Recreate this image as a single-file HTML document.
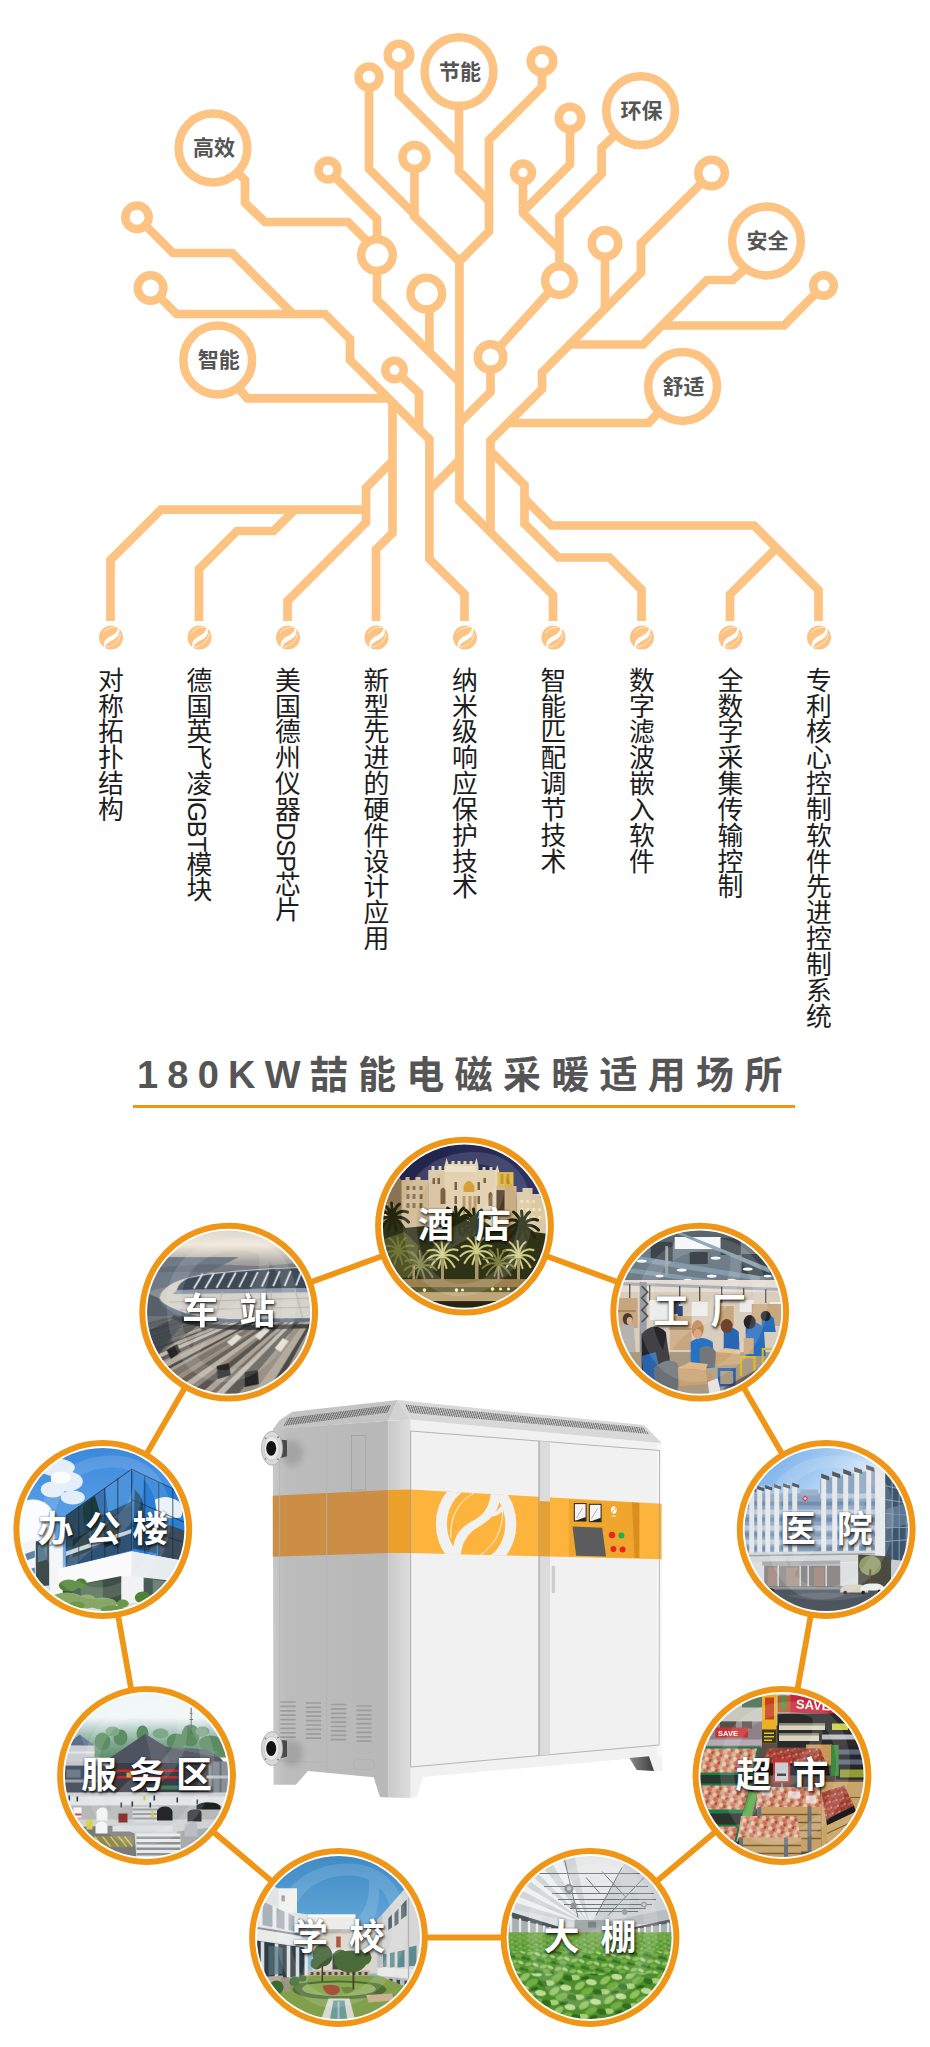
<!DOCTYPE html>
<html lang="zh-CN">
<head>
<meta charset="utf-8">
<title>180KW喆能电磁采暖适用场所</title>
<style>
*{margin:0;padding:0;box-sizing:border-box}
html,body{width:930px;height:2047px;background:#fff;overflow:hidden}
body{font-family:"Liberation Sans","Noto Sans CJK SC",sans-serif}
#page{position:relative;width:930px;height:2047px;background:#fff;overflow:hidden}
#art{position:absolute;left:0;top:0;width:930px;height:2047px}
.tag{position:absolute;width:80px;height:30px;line-height:30px;text-align:center;font-size:21px;font-weight:700;color:#555;letter-spacing:0}
.vt{position:absolute;top:667px;width:30px;writing-mode:vertical-rl;text-orientation:mixed;font-size:25.83px;line-height:30px;color:#1d1d1d;white-space:nowrap;font-weight:400}
#title{position:absolute;left:137px;top:1047px;width:680px;height:56px;line-height:56px;font-size:38px;font-weight:700;color:#555;letter-spacing:10.3px;white-space:nowrap}
.lab{position:absolute;width:180px;height:50px;line-height:50px;text-align:center;font-size:36px;font-weight:700;color:#fff;white-space:nowrap;text-shadow:1px 2px 3px rgba(0,0,0,.75),0 0 2px rgba(0,0,0,.5)}
.l2{letter-spacing:21px;text-indent:21px}
.l3{letter-spacing:11.5px;text-indent:11.5px}
</style>
</head>
<body>
<div id="page">
<svg id="art" viewBox="0 0 930 2047" width="930" height="2047">
<defs>
<symbol id="ico" viewBox="-13 -13 26 26" overflow="visible">
<circle r="12" fill="#FDC383"/>
<path d="M7.2,-10.8 C6.6,-5.6 3.6,-3.2 -1.2,-0.9 C-6,1.6 -8.2,5.4 -6.9,10.9 L-6.2,11 C-5.5,7 -3,4.8 2,2.5 C7.6,-0.2 9.6,-4.6 7.9,-10.4Z" fill="#fff"/>
<path d="M-7.8,-4.4 C-5.6,-8.6 -0.5,-10.6 6.8,-10.6" stroke="#fff" stroke-width=".8" fill="none" opacity=".8"/>
<path d="M-5.4,9.6 C1.5,9.2 8.2,4.6 9.4,-3.6" stroke="#fff" stroke-width=".8" fill="none" opacity=".8"/>
</symbol>
<linearGradient id="gSide" x1="0" x2="1" y1="0" y2="0"><stop offset="0" stop-color="#C8C8C8"/><stop offset=".12" stop-color="#BCBCBC"/><stop offset="1" stop-color="#B8B8B8"/></linearGradient>
<linearGradient id="gLeg" x1="0" x2="1" y1="0" y2="0"><stop offset="0" stop-color="#8a8a8a"/><stop offset="1" stop-color="#3c3c3c"/></linearGradient>
<pattern id="hatch" width="2.2" height="10" patternUnits="userSpaceOnUse" patternTransform="skewX(20)"><rect width="2.2" height="10" fill="#CFCFCF"/><rect width="1.1" height="10" fill="#6E6E6E"/></pattern>
<clipPath id="cp"><circle r="81.6"/></clipPath>
<filter id="soft" x="-5%" y="-5%" width="110%" height="110%"><feGaussianBlur stdDeviation="0.7"/></filter>
<linearGradient id="skyCZ" x1="0" x2="0" y1="0" y2="1"><stop offset="0" stop-color="#D9D6D0"/><stop offset=".28" stop-color="#F1E8DA"/><stop offset=".42" stop-color="#CFC8BE"/><stop offset=".58" stop-color="#A2A09E"/><stop offset="1" stop-color="#8A8E92"/></linearGradient>
<linearGradient id="skyBG" x1="0" x2="0" y1="0" y2="1"><stop offset="0" stop-color="#3A88DC"/><stop offset=".5" stop-color="#5FA3E8"/><stop offset="1" stop-color="#A9CCF0"/></linearGradient>
<linearGradient id="skyYY" x1="0" x2="1" y1="0" y2="1"><stop offset="0" stop-color="#5E9FE6"/><stop offset=".32" stop-color="#A9CDF2"/><stop offset=".5" stop-color="#E6F0FA"/><stop offset="1" stop-color="#F4F8FC"/></linearGradient>
<linearGradient id="skyXX" x1="0" x2="0" y1="0" y2="1"><stop offset="0" stop-color="#3F8AC4"/><stop offset=".4" stop-color="#5FA4D6"/><stop offset="1" stop-color="#9CCAE8"/></linearGradient>
<g id="gloss" opacity=".13" fill="#fff"><path fill-rule="evenodd" d="M-62,-8 C-62,-52 -28,-74 10,-74 C46,-74 68,-48 68,-12 C68,30 36,70 -6,70 C-40,70 -62,36 -62,-8Z M-48,-6 C-48,30 -30,58 -4,58 C30,58 54,24 54,-12 C54,-42 38,-62 10,-62 C-22,-62 -48,-42 -48,-6Z"/><path d="M30,-62 C34,-30 20,-14 -6,-2 C-30,10 -40,28 -36,58 C-30,36 -20,24 2,14 C30,0 44,-22 40,-58Z"/></g>
<clipPath id="bandclip"><path d="M410.8,1489.6 L661.6,1503.7 L661.6,1559.3 L410.8,1553 Z"/></clipPath>
<pattern id="hatch2" width="2.2" height="10" patternUnits="userSpaceOnUse" patternTransform="skewX(-25)"><rect width="2.2" height="10" fill="#BDBDBD"/><rect width="1.1" height="10" fill="#666"/></pattern>
<filter id="blur3" x="-50%" y="-50%" width="200%" height="200%"><feGaussianBlur stdDeviation="3"/></filter>
<linearGradient id="skyJD" x1="0" x2="1" y1="0" y2="1"><stop offset="0" stop-color="#1D2146"/><stop offset=".6" stop-color="#2E3363"/><stop offset="1" stop-color="#3A3F6C"/></linearGradient>
<g id="palm"><path d="M0,0 Q-6,-9 -15,-5 M0,0 Q-9,-3 -16,4 M0,0 Q-7,2 -12,11 M0,0 Q-3,-10 -9,-14 M0,0 Q2,-11 7,-14 M0,0 Q7,-9 15,-6 M0,0 Q10,-3 16,4 M0,0 Q7,2 12,11 M0,0 Q0,-9 -1,-15 M0,0 Q-2,5 -4,12 M0,0 Q2,5 4,12"/></g>
<linearGradient id="hillFW" x1="0" x2="0" y1="0" y2="1"><stop offset="0" stop-color="#F1F6F6"/><stop offset=".3" stop-color="#B9D0CC"/><stop offset=".65" stop-color="#7FA890"/><stop offset="1" stop-color="#5F8E66"/></linearGradient>
<pattern id="apl" width="9" height="8" patternUnits="userSpaceOnUse" patternTransform="rotate(17)"><rect width="9" height="8" fill="#C98A72"/><circle cx="2" cy="2" r="2.200" fill="#E3A692"/><circle cx="6.500" cy="2.500" r="2.100" fill="#D06A5A"/><circle cx="4" cy="6" r="2.200" fill="#E8C9A0"/><circle cx="8.500" cy="6.500" r="1.800" fill="#B8473E"/><circle cx="0.500" cy="6" r="1.300" fill="#8FA35A"/></pattern>
<pattern id="apl2" width="7" height="6" patternUnits="userSpaceOnUse" patternTransform="rotate(-14)"><rect width="7" height="6" fill="#8E3A32"/><circle cx="2" cy="2" r="1.800" fill="#C4584A"/><circle cx="5.500" cy="4.500" r="1.700" fill="#B0443A"/><circle cx="5" cy="1" r="1.200" fill="#DC8A6A"/></pattern>
<pattern id="leafL" width="26" height="20" patternUnits="userSpaceOnUse" patternTransform="rotate(-12)"><rect width="26" height="20" fill="#4F8C2E"/><ellipse cx="6" cy="5" rx="6" ry="3.200" fill="#8FC25C" transform="rotate(-25 6 5)"/><ellipse cx="18" cy="4" rx="5.500" ry="3" fill="#BBDD94" transform="rotate(20 18 4)"/><ellipse cx="12" cy="12" rx="6.500" ry="3.400" fill="#6FAE40" transform="rotate(-10 12 12)"/><ellipse cx="22" cy="15" rx="5" ry="3" fill="#2F6E1E" transform="rotate(30 22 15)"/><ellipse cx="3" cy="16" rx="5" ry="2.800" fill="#A6D078" transform="rotate(15 3 16)"/><ellipse cx="13" cy="19" rx="4" ry="2" fill="#2B661C"/></pattern>
<pattern id="leafM" width="15" height="11" patternUnits="userSpaceOnUse" patternTransform="rotate(9)"><rect width="15" height="11" fill="#57943A"/><ellipse cx="3.500" cy="3" rx="3.500" ry="1.800" fill="#8CC05A" transform="rotate(-20 3.5 3)"/><ellipse cx="10.500" cy="2.500" rx="3.200" ry="1.700" fill="#A9D27A" transform="rotate(18 10.5 2.5)"/><ellipse cx="7" cy="7" rx="3.600" ry="1.900" fill="#6FAE42"/><ellipse cx="13" cy="8.500" rx="2.800" ry="1.600" fill="#35741F"/><ellipse cx="2" cy="9" rx="2.600" ry="1.500" fill="#39781F"/></pattern>
<pattern id="leafS" width="8" height="5" patternUnits="userSpaceOnUse" patternTransform="rotate(-6)"><rect width="8" height="5" fill="#619E3C"/><ellipse cx="2" cy="1.500" rx="1.800" ry=".9" fill="#8CBE58"/><ellipse cx="6" cy="3.500" rx="1.800" ry=".9" fill="#7DB24C"/><ellipse cx="5" cy="1" rx="1.200" ry=".7" fill="#3F7E26"/></pattern>
<linearGradient id="gCham" x1="0" x2="1" y1="0" y2="0"><stop offset="0" stop-color="#C9C9C9"/><stop offset="1" stop-color="#DEDEDE"/></linearGradient>
</defs>
<g id="tree" fill="none" stroke="#FDC383" stroke-width="8.7" stroke-linejoin="miter" stroke-linecap="butt">
<!-- upper branches -->
<path d="M235,170 L245,180 V203 L265,222 H348 L377,251"/>
<path d="M328,170 L377,219 V255"/>
<path d="M377,255 V299.5 L459.4,382"/>
<path d="M429.4,293 V354"/>
<path d="M369,77 V169 L414.5,214.5"/>
<path d="M414.5,157 V216.5 L459.4,261.4"/>
<path d="M399,55 V94 L459,154"/>
<path d="M459,72 V171 L489,201"/>
<path d="M542,61 V87 L489,140 V231.4 L459.4,261.4 V501 L553,595 V621"/>
<path d="M570,118 V164.5 L523,211.5"/>
<path d="M523,172.5 V213 L559.4,249.4 V280"/>
<path d="M617,133 L601.6,148 V174 L559.4,216.5 V250"/>
<path d="M559.4,280.6 L490.5,357 V392 L459.4,423"/>
<path d="M711.6,173 L641,243.5 V272.5 L542,372.5 V389 L490.5,440.5 V534"/>
<path d="M605,243.5 V309"/>
<path d="M745,269 L732.6,280 H707 L643,344.5 H567"/>
<path d="M823.5,285.5 L784,325.5 H660"/>
<path d="M659,412 L648.7,423 H506"/>
<path d="M137,217 L173,253 H232 L293,314"/>
<path d="M150.6,288 L176.5,314 H325 L350,339 V360 L429.4,439.4 V559 L464.5,594 V621"/>
<path d="M240,390 L247.4,398.4 H390"/>
<path d="M392.5,400 V533 L376,549.5 V621"/>
<path d="M394.5,370 L419,393 V430"/>
<path d="M459.4,460 L429.4,490"/>
<path d="M392.5,461 L366,488 V522.5 L287.5,601 V621"/>
<path d="M366,509.6 H161 L110.5,560 V621"/>
<path d="M295,509.6 L273.4,531 H237 L199,569 V621"/>
<path d="M490.5,451 L524.5,485 V523.6 L558.4,557.5 H609.4 L641.5,589.6 V621"/>
<path d="M524.5,498.7 L551.3,525.5 H754 L818.5,590 V621"/>
<path d="M776.5,548 L730,594.5 V621"/>
</g>
<g id="nodes" fill="#fff" stroke="#FDC383" stroke-width="8.5">
<circle cx="213" cy="148" r="34.4"/>
<circle cx="459" cy="71.6" r="34.4"/>
<circle cx="640.6" cy="110.6" r="34.4"/>
<circle cx="766.5" cy="241" r="34.4"/>
<circle cx="217.7" cy="360" r="34.4"/>
<circle cx="682.6" cy="386.5" r="34.4"/>
<circle cx="369" cy="77" r="10.5"/>
<circle cx="399" cy="55" r="11.3"/>
<circle cx="542" cy="61" r="11.3"/>
<circle cx="414.5" cy="157" r="12"/>
<circle cx="570" cy="118" r="11.3"/>
<circle cx="523" cy="172.5" r="9"/>
<circle cx="711.6" cy="173" r="13.3"/>
<circle cx="605" cy="243.5" r="13.3"/>
<circle cx="823.5" cy="285.5" r="10.3"/>
<circle cx="328" cy="170" r="9.5"/>
<circle cx="137" cy="217.3" r="11.7"/>
<circle cx="150.6" cy="288" r="12.8"/>
<circle cx="377" cy="255" r="15.8"/>
<circle cx="426.3" cy="293.5" r="15.8"/>
<circle cx="559.4" cy="280.6" r="14.3"/>
<circle cx="490.5" cy="357" r="12.8"/>
<circle cx="394.5" cy="370" r="9.2"/>
</g>

<g id="icons">
<use href="#ico" x="98.0" y="624.5" width="26" height="26"/>
<use href="#ico" x="186.5" y="624.5" width="26" height="26"/>
<use href="#ico" x="275.0" y="624.5" width="26" height="26"/>
<use href="#ico" x="363.5" y="624.5" width="26" height="26"/>
<use href="#ico" x="452.0" y="624.5" width="26" height="26"/>
<use href="#ico" x="540.5" y="624.5" width="26" height="26"/>
<use href="#ico" x="629.0" y="624.5" width="26" height="26"/>
<use href="#ico" x="717.5" y="624.5" width="26" height="26"/>
<use href="#ico" x="806.0" y="624.5" width="26" height="26"/>
</g>

<g id="ring" stroke="#EF9616" fill="none">
<path stroke-width="5.8" d="M464.5,1226.1 L699.7,1312.1 L826.2,1529.5 L782.0,1775.5 L590.0,1937.5 L338.5,1937.5 L146.5,1775.5 L102.8,1529.5 L228.7,1312.1 Z"/>
<circle cx="464.5" cy="1226.1" r="86.4" stroke-width="6" fill="#fff"/>
<circle cx="699.7" cy="1312.1" r="86.4" stroke-width="6" fill="#fff"/>
<circle cx="826.2" cy="1529.5" r="86.4" stroke-width="6" fill="#fff"/>
<circle cx="782.0" cy="1775.5" r="86.4" stroke-width="6" fill="#fff"/>
<circle cx="590.0" cy="1937.5" r="86.4" stroke-width="6" fill="#fff"/>
<circle cx="338.5" cy="1937.5" r="86.4" stroke-width="6" fill="#fff"/>
<circle cx="146.5" cy="1775.5" r="86.4" stroke-width="6" fill="#fff"/>
<circle cx="102.8" cy="1529.5" r="86.4" stroke-width="6" fill="#fff"/>
<circle cx="228.7" cy="1312.1" r="86.4" stroke-width="6" fill="#fff"/>
</g>

<g id="machine">
<!-- side face -->
<path d="M272.8,1429 L388.5,1420.8 L388.5,1797.5 L379.9,1797 L373.7,1777.3 L308,1771 L295.8,1784.7 L273.5,1784.7 Z" fill="url(#gSide)"/>
<!-- chamfer -->
<path d="M388.5,1420.8 L410.8,1419.6 L410.8,1798 L388.5,1797.5 Z" fill="url(#gCham)"/>
<!-- front face -->
<path d="M410.8,1419.6 L662,1443.2 L661.6,1756 L423,1777 L417,1797 L410.8,1798 Z" fill="#F1F1F1"/>
<path d="M657,1442.7 L662,1443.2 L661.6,1756 L657,1756.4 Z" fill="#F8F8F8"/>
<!-- right leg -->
<path d="M643,1756 L661.6,1756 L662.8,1771 L654,1771 Z" fill="#F2F2F2"/>
<path d="M629.4,1758 L649,1756.3 L654,1771 L636.8,1770 Z" fill="url(#gLeg)"/>
<!-- lid -->
<path d="M292.5,1411.7 L397.8,1400 L388.5,1420.8 L272.8,1429.4 L279.7,1420 Z" fill="#C4C4C4"/>
<path d="M397.8,1400 L410.8,1419.6 L388.5,1420.8 Z" fill="#D2D2D2"/>
<path d="M397.8,1400 L644,1425 L662,1443.2 L410.8,1419.6 Z" fill="#D8D8D8"/>
<path d="M288,1418 L391,1404.9 L387.8,1412.6 L283.5,1426 Z" fill="url(#hatch2)"/>
<path d="M404.5,1404.6 L643,1427.6 L649.3,1434 L409.5,1412.8 Z" fill="url(#hatch)"/>
<!-- orange band -->
<path d="M272.8,1495.8 L388.5,1490 L388.5,1553 L272.8,1556.8 Z" fill="#CC8E45"/>
<path d="M388.5,1490 L410.8,1489.6 L410.8,1553 L388.5,1553 Z" fill="#EAA02B"/>
<path d="M410.8,1489.6 L661.6,1503.7 L661.6,1559.3 L410.8,1553 Z" fill="#FDB43C"/>
<!-- side details -->
<path d="M279.7,1437 V1761 L326.7,1762.5 M326.7,1434 V1772" stroke="#B2B2B2" stroke-width=".8" fill="none"/>
<rect x="351.4" y="1435.6" width="14.4" height="54.4" fill="none" stroke="#9E9E9E" stroke-width=".7"/>
<g stroke="#9C9C9C" stroke-width="1.7" stroke-linecap="round">
<path d="M281,1702h14m-14,4.4h14m-14,4.4h14m-14,4.4h14m-14,4.4h14m-14,4.4h14m-14,4.4h14m-14,4.4h14m-14,4.4h14"/>
<path d="M306.5,1703h14m-14,4.4h14m-14,4.4h14m-14,4.4h14m-14,4.4h14m-14,4.4h14m-14,4.4h14m-14,4.4h14m-14,4.4h14"/>
<path d="M331.5,1704.5h14m-14,4.4h14m-14,4.4h14m-14,4.4h14m-14,4.4h14m-14,4.4h14m-14,4.4h14m-14,4.4h14m-14,4.4h14"/>
<path d="M357,1706h14m-14,4.4h14m-14,4.4h14m-14,4.4h14m-14,4.4h14m-14,4.4h14m-14,4.4h14m-14,4.4h14m-14,4.4h14"/>
</g>
<rect x="353.5" y="1759.5" width="21" height="10" rx="4" fill="none" stroke="#AFAFAF" stroke-width=".7"/>
<!-- doors -->
<path d="M410.6,1431 L659.5,1450.5 L659,1745 L410.6,1767 Z" fill="none" stroke="#9A9A9A" stroke-width=".7"/>
<path d="M539,1441 L550,1441.9 L550,1754.6 L539,1755.6 Z" fill="#DCDCDC"/>
<path d="M539,1441 V1755.6" stroke="#999" stroke-width="1" fill="none"/>
<path d="M539,1501 L550,1501.6 V1556.5 L539,1556.2Z" fill="#E5A037"/>
<rect x="552" y="1566" width="2.6" height="27" rx="1.3" fill="#D0D0D0" stroke="#BDBDBD" stroke-width=".5"/>
<!-- logo on band -->
<g clip-path="url(#bandclip)"><g transform="translate(476.1,1524)">
<ellipse rx="40.3" ry="47" fill="#F1F1F1"/>
<ellipse rx="29.2" ry="36" fill="#FDB43C"/>
<path d="M15,-36 C15,-20 9,-10 -1.6,-4 C-14,2.5 -25,10 -23,36 L-15,36 C-16,22 -10,12 -1.6,5.6 C12,-3 26,-10 24,-36 Z" fill="#F1F1F1"/>
<path d="M-25,14 C-27,-8 -16,-24 -2,-31" stroke="#F1F1F1" stroke-width="1" fill="none"/>
<path d="M4,31 C18,22 27,6 26.600,-14" stroke="#F1F1F1" stroke-width="1" fill="none"/>
<path d="M14,-8 C20,-12 24,-16 26.6,-20 L26.6,-13 C23,-9 19,-7 14,-8Z" fill="#F1F1F1"/>
</g></g>
<!-- control panel -->
<path d="M568.8,1499.5 L639.3,1503 L639.3,1558 L568.8,1556 Z" fill="#F0A62D"/>
<path d="M632,1502.6 L639.3,1503 L639.3,1558 L634.5,1557.8 Z" fill="#D98F1E"/>
<rect x="574.3" y="1503.6" width="11.8" height="17.4" fill="#F4F4F4" stroke="#222" stroke-width="1"/>
<rect x="589.3" y="1504.3" width="11.8" height="17.4" fill="#F4F4F4" stroke="#222" stroke-width="1"/>
<path d="M574.8,1521 h11 v-4 z M589.800,1521.700 h11 v-4 z" fill="#222"/><path d="M576.500,1518 l6,-10 M591.500,1518.500 l6,-10" stroke="#888" stroke-width=".6"/>
<path d="M572.5,1526.4 L602.2,1527.7 L606,1556.6 L576.2,1555.8 Z" fill="#5C5C5E"/>
<circle cx="612" cy="1535" r="3.2" fill="#E8261C"/><circle cx="621.4" cy="1535.4" r="3" fill="#1FB04B"/>
<circle cx="613.4" cy="1549" r="3" fill="#E8261C"/><circle cx="622.6" cy="1549.5" r="3" fill="#E8261C"/>
<ellipse cx="613.8" cy="1510" rx="2.800" ry="3.800" fill="#fff"/><path d="M615.500,1507 q0.500,3 -1.700,3.300 q-2,0.500 -1.500,3" stroke="#F0A62D" stroke-width=".9" fill="none"/><rect x="611.500" y="1515.500" width="4.600" height="1.400" fill="#F6D9A6"/>
<!-- flanges -->
<g filter="url(#blur3)"><ellipse cx="292" cy="1453" rx="11" ry="13" fill="#000" opacity=".13"/><ellipse cx="292" cy="1753" rx="11" ry="13" fill="#000" opacity=".13"/></g>
<g transform="translate(272,1448.3)"><path d="M4,-9 L15,-8 V8 L4,11Z" fill="#4A4A4A"/><ellipse rx="10.600" ry="17" fill="#D9D9D9" stroke="#A8A8A8" stroke-width=".8"/><ellipse cx="-.4" rx="7.600" ry="12" fill="#E9E9E9" stroke="#B5B5B5" stroke-width=".6"/><ellipse cx="-.8" rx="5" ry="7.400" fill="#141414"/><circle cx="-6.500" cy="-10" r="1" fill="#8a8a8a"/><circle cx="6" cy="-11" r="1" fill="#8a8a8a"/><circle cx="-6.500" cy="10.500" r="1" fill="#8a8a8a"/><circle cx="6" cy="11" r="1" fill="#8a8a8a"/></g>
<g transform="translate(272,1748.5)"><path d="M4,-9 L15,-8 V8 L4,11Z" fill="#4A4A4A"/><ellipse rx="10.600" ry="17" fill="#D9D9D9" stroke="#A8A8A8" stroke-width=".8"/><ellipse cx="-.4" rx="7.600" ry="12" fill="#E9E9E9" stroke="#B5B5B5" stroke-width=".6"/><ellipse cx="-.8" rx="5" ry="7.400" fill="#141414"/><circle cx="-6.500" cy="-10" r="1" fill="#8a8a8a"/><circle cx="6" cy="-11" r="1" fill="#8a8a8a"/><circle cx="-6.500" cy="10.500" r="1" fill="#8a8a8a"/><circle cx="6" cy="11" r="1" fill="#8a8a8a"/></g>
</g>

<g id="photos">
<!-- 酒店 -->
<g transform="translate(464.5,1226.1)"><g clip-path="url(#cp)"><g filter="url(#soft)">
<rect x="-84" y="-84" width="168" height="168" fill="url(#skyJD)"/>
<!-- far left dark building -->
<path d="M-84,-46 L-66,-50 L-62,-44 V0 H-84Z" fill="#8C7352"/>
<!-- left wing -->
<path d="M-63,-46 h4 v-3 h4 v3 h6 v-3 h5 v3 h8 V8 H-63Z" fill="#CDB68E"/>
<!-- main block -->
<path d="M-36,-56 h3 v-4 h3 v4 h4 v-4 h3 v4 h3 V-60 l2,-8 l2,6 h3 v-3 h3 v3 h3 v-3 h3 v3 h3 v-3 h3 v3 h3 v-3 h3 v3 h2 l2,-6 l2,8 v4 h4 v-3 h3 v3 h4 v-3 h3 v3 h3 l2,-5 l2,8 V10 H-36Z" fill="#E2D2B2"/>
<path d="M-20,-60 h32 v6 h-32z" fill="#EDE0C4"/>
<path d="M-36,-56 h16 V10 h-16z" fill="#D8C6A2"/>
<!-- yellow tower + right buildings -->
<path d="M33,-54 h16 v14 h-16z" fill="#E0B232"/><path d="M36,-52 h3 v10 h-3z M42,-52 h3 v10 h-3z" fill="#B88820"/>
<path d="M32,-40 h20 V6 h-20z" fill="#C9AE84"/><path d="M32,-36 h8 v20 h-8z" fill="#4B3722"/>
<path d="M52,-34 h6 v-4 h10 v6 h8 v4 h8 V8 H52Z" fill="#DAC8A6"/>
<!-- windows -->
<g fill="#7A6242"><path d="M-58,-40 h3 v4 h-3z M-52,-40 h3 v4 h-3z M-45,-40 h3 v4 h-3z M-58,-32 h3 v5 h-3z M-52,-32 h3 v5 h-3z M-45,-32 h3 v5 h-3z M-58,-23 h3 v5 h-3z M-52,-23 h3 v5 h-3z M-45,-23 h3 v5 h-3z"/>
<path d="M-32,-48 h2.500 v6 h-2.500z M-27,-48 h2.500 v6 h-2.500z M-24,-36 q2.500,-5 5,0 v14 h-5z M-10,-44 h2.500 v8 h-2.500z M-10,-30 h2.500 v8 h-2.500z M-10,-17 h2.500 v8 h-2.500z M13,-44 h2.500 v8 h-2.500z M13,-30 h2.500 v8 h-2.500z M24,-32 q2,-4 4,0 v12 h-4z M19,-48 h2.500 v5 h-2.500z"/></g>
<path d="M-1,-40 q5,-10 11,0 v6 h-11z" fill="#D7A038"/><path d="M-2,-30 h3 v20 h-3z M4,-30 h3 v20 h-3z M9,-30 h3 v20 h-3z" fill="#B99A68"/>
<g fill="#F3E3A6"><path d="M-80,-22 h3 v4 h-3z M-74,-22 h3 v4 h-3z M-80,-12 h3 v4 h-3z M56,-26 h2.500 v3 h-2.500z M62,-26 h2.500 v3 h-2.500z M68,-26 h2.500 v3 h-2.500z M56,-18 h2.500 v3 h-2.500z M62,-18 h2.500 v3 h-2.500z M68,-18 h2.500 v3 h-2.500z M74,-18 h2.500 v3 h-2.500z M56,-10 h2.500 v3 h-2.500z M62,-10 h2.500 v3 h-2.500z M68,-10 h2.500 v3 h-2.500z M74,-10 h2.500 v3 h-2.500z M62,-2 h2.500 v3 h-2.500z M68,-2 h2.500 v3 h-2.500z"/></g>
<!-- dark palm band -->
<path d="M-84,0 L-70,-10 L-60,2 L-40,0 L-24,4 L-14,-8 L-2,-10 L6,-2 L16,-8 L26,2 L40,4 L52,-4 L62,0 L70,6 L84,8 V60 H-84Z" fill="#2F3018"/>
<g stroke="#23260F" stroke-width="3" fill="none" stroke-linecap="round"><use href="#palm" x="-72" y="-8"/><use href="#palm" x="-8" y="-4"/><use href="#palm" x="10" y="-2"/><use href="#palm" x="58" y="0"/></g>
<path d="M-84,14 L-60,6 L-46,20 L-50,50 L-84,56Z" fill="#4F5426"/>
<g stroke="#6F7438" stroke-width="2.200" fill="none" stroke-linecap="round"><use href="#palm" x="-66" y="26"/></g>
<g stroke="#A9A85E" stroke-width="2.200" fill="none" stroke-linecap="round"><use href="#palm" x="-22" y="30"/><use href="#palm" x="12" y="26"/><use href="#palm" x="54" y="30"/></g>
<g stroke="#D2CF8C" stroke-width="1.200" fill="none" stroke-linecap="round"><use href="#palm" x="-22" y="30"/><use href="#palm" x="12" y="26"/><use href="#palm" x="54" y="30"/></g>
<g stroke="#7D7F40" stroke-width="2" fill="none" stroke-linecap="round"><use href="#palm" x="34" y="38"/><use href="#palm" x="-44" y="40"/></g>
<path d="M-23.500,32 h3 v40 h-3z M10.500,28 h3.500 v44 h-3.500z M52.500,32 h3 v38 h-3z M33,40 h2 v30 h-2z M-52,40 h2.500 v30 h-2.500z" fill="#A8976C"/>
<!-- wall, lights, water -->
<rect x="-84" y="53" width="168" height="9" fill="#9C8050"/>
<rect x="-84" y="61" width="168" height="6" fill="#5B5A2C"/>
<rect x="-84" y="66" width="168" height="10" fill="#BFA676"/>
<g fill="#FFF4C8"><circle cx="-40" cy="64" r="1.800"/><circle cx="-8" cy="64" r="1.800"/><circle cx="-2" cy="64" r="1.500"/><circle cx="28" cy="63" r="1.800"/><circle cx="36" cy="63" r="1.500"/><circle cx="44" cy="63" r="1.500"/></g>
<rect x="-84" y="75" width="168" height="10" fill="#2A2418"/>
</g><use href="#gloss"/></g></g>
<!-- 车站 -->
<g transform="translate(228.7,1312.1)"><g clip-path="url(#cp)"><g filter="url(#soft)">
<rect x="-84" y="-84" width="168" height="60" fill="url(#skyCZ)"/>
<path d="M-84,-84 H-30 L-84,-40Z" fill="#AEB4BA" opacity=".7"/>
<rect x="-84" y="-26" width="168" height="30" fill="#8A8E92"/>
<path d="M-84,-55 H10 L-40,-30 L-84,-20Z" fill="#6F7A86"/>
<path d="M-84,-44 L-20,-48 L30,-46 L84,-50 V-40 H-84Z" fill="#5E6670" opacity=".6"/>
<g><path d="M108,-34 L-420,90 L-404,90Z" fill="#8F867A"/><path d="M108,-34 L-404,90 L-393,90Z" fill="#3E3E3C"/><path d="M108,-34 L-393,90 L-373,90Z" fill="#B9B1A4"/><path d="M108,-34 L-373,90 L-362,90Z" fill="#6C675F"/><path d="M108,-34 L-362,90 L-342,90Z" fill="#D6D1C7"/><path d="M108,-34 L-342,90 L-322,90Z" fill="#4A4845"/><path d="M108,-34 L-322,90 L-302,90Z" fill="#A39A8C"/><path d="M108,-34 L-302,90 L-286,90Z" fill="#C4BDB0"/><path d="M108,-34 L-286,90 L-279,90Z" fill="#2F2F2E"/><path d="M108,-34 L-279,90 L-266,90Z" fill="#B0A898"/><path d="M108,-34 L-266,90 L-257,90Z" fill="#77716A"/><path d="M108,-34 L-257,90 L-237,90Z" fill="#9B9285"/><path d="M108,-34 L-237,90 L-230,90Z" fill="#54514C"/><path d="M108,-34 L-230,90 L-221,90Z" fill="#CFC8BB"/><path d="M108,-34 L-221,90 L-214,90Z" fill="#8F867A"/><path d="M108,-34 L-214,90 L-203,90Z" fill="#3E3E3C"/><path d="M108,-34 L-203,90 L-190,90Z" fill="#B9B1A4"/><path d="M108,-34 L-190,90 L-181,90Z" fill="#6C675F"/><path d="M108,-34 L-181,90 L-168,90Z" fill="#D6D1C7"/><path d="M108,-34 L-168,90 L-152,90Z" fill="#4A4845"/><path d="M108,-34 L-152,90 L-145,90Z" fill="#A39A8C"/><path d="M108,-34 L-145,90 L-129,90Z" fill="#C4BDB0"/><path d="M108,-34 L-129,90 L-120,90Z" fill="#2F2F2E"/><path d="M108,-34 L-120,90 L-113,90Z" fill="#B0A898"/><path d="M108,-34 L-113,90 L-93,90Z" fill="#77716A"/><path d="M108,-34 L-93,90 L-84,90Z" fill="#9B9285"/><path d="M108,-34 L-84,90 L-71,90Z" fill="#54514C"/><path d="M108,-34 L-71,90 L-60,90Z" fill="#CFC8BB"/><path d="M108,-34 L-60,90 L-51,90Z" fill="#8F867A"/><path d="M108,-34 L-51,90 L-38,90Z" fill="#3E3E3C"/><path d="M108,-34 L-38,90 L-29,90Z" fill="#B9B1A4"/><path d="M108,-34 L-29,90 L-22,90Z" fill="#6C675F"/><path d="M108,-34 L-22,90 L-13,90Z" fill="#D6D1C7"/><path d="M108,-34 L-13,90 L3,90Z" fill="#4A4845"/><path d="M108,-34 L3,90 L19,90Z" fill="#A39A8C"/><path d="M108,-34 L19,90 L32,90Z" fill="#C4BDB0"/><path d="M108,-34 L32,90 L41,90Z" fill="#2F2F2E"/><path d="M108,-34 L41,90 L50,90Z" fill="#B0A898"/><path d="M108,-34 L50,90 L57,90Z" fill="#77716A"/><path d="M108,-34 L57,90 L64,90Z" fill="#9B9285"/><path d="M108,-34 L64,90 L73,90Z" fill="#54514C"/><path d="M108,-34 L73,90 L82,90Z" fill="#CFC8BB"/><path d="M108,-34 L82,90 L91,90Z" fill="#8F867A"/><path d="M108,-34 L91,90 L100,90Z" fill="#3E3E3C"/><path d="M108,-34 L100,90 L111,90Z" fill="#B9B1A4"/><path d="M108,-34 L111,90 L122,90Z" fill="#6C675F"/></g>
<rect x="-84" y="-10" width="168" height="96" fill="#8E867A" opacity=".32"/>
<path d="M-84,-20 L-70,-14 L-40,4 L-84,60Z" fill="#48525C" opacity=".75"/>
<path d="M-84,20 L-40,0 L-20,6 L-84,52Z" fill="#2E3338" opacity=".55"/>
<path d="M-69.500,-14 Q-66,-30 -30,-37 Q20,-44 84,-45 V6 L20,7 Q-30,8 -52,-2 Q-68,-8 -69.500,-14Z" fill="#D5D2CB"/>
<path d="M-40,-34 Q0,-42 84,-44.500 V-24 L-52,-22 Q-50,-30 -40,-34Z" fill="#3C4856"/>
<path d="M-26,-38.5 l-9.0,15 M-15,-38.8 l-8.7,15 M-4,-39.2 l-8.3,15 M7,-39.5 l-8.0,15 M18,-39.8 l-7.6,15 M29,-40.1 l-7.2,15 M40,-40.5 l-6.9,15 M51,-40.8 l-6.6,15 M62,-41.1 l-6.2,15 M73,-41.5 l-5.8,15 M84,-41.8 l-5.5,15 " stroke="#E4E6E8" stroke-width="1.800" fill="none"/>
<path d="M-52,-22 L84,-24 V-20 L-56,-18Z" fill="#8C9AA8"/>
<path d="M-60,-10 L84,-14 M-50,-2 L84,-5 M-30,-20 L-44,4 M-6,-21 L-14,7 M18,-22 L14,7 M42,-22.500 L44,7 M66,-23 L74,6" stroke="#B9B5AC" stroke-width="1" fill="none"/>
<path d="M-69.500,-14 Q-68,-8 -52,-2 Q-30,8 20,7 L84,6 V9.500 L20,10.500 Q-32,11.500 -55,1 Q-69,-6 -69.500,-14Z" fill="#5F7286"/>
<path d="M-55,3 Q-30,14 20,13 L84,12 V16 L20,18 Q-34,18 -58,6Z" fill="#2B2E31" opacity=".8"/>
<path d="M-12,54 l12,-3 l2,12 l-13,4z M16,60 l13,-2 l1,14 l-14,3z M-62,38 l10,-6 l4,8 l-10,7z" fill="#252525"/>
<path d="M-2,30 l10,-8 l5,3 l-10,9z M26,24 l10,-9 l5,3 l-10,10z M46,36 l8,-10 l6,3 l-8,11z" fill="#E3DFD6"/>
</g><use href="#gloss"/></g></g>
<!-- 工厂 -->
<g transform="translate(699.7,1312.1)"><g clip-path="url(#cp)"><g filter="url(#soft)">
<rect x="-84" y="-84" width="168" height="168" fill="#D9CDBB"/>
<!-- ceiling -->
<rect x="-84" y="-84" width="168" height="54" fill="#6E7D87"/>
<path d="M-84,-84 H84 V-70 H-84Z" fill="#59666F"/>
<path d="M-25,-75 h46 v12 h-46z" fill="#F4F6F7"/>
<path d="M-49,-70 h22 v22 h-22z M21,-74 h20 v17 h-20z M42,-58 h30 v22 h-30z M-10,-60 h18 v12 h-18z" fill="#3C454B"/>
<path d="M-84,-60 L60,-36 V-31 L-84,-54Z M-84,-46 L30,-30 V-26 L-84,-41Z M-30,-84 L70,-44 V-39 L-36,-84Z" fill="#839AAA"/>
<path d="M-33,-66 v30" stroke="#9AA4AA" stroke-width="3"/>
<g fill="#F6F8F8"><ellipse cx="-58" cy="-51" rx="5" ry="1.600"/><ellipse cx="-18" cy="-42" rx="5" ry="1.600"/><ellipse cx="16" cy="-54" rx="5" ry="1.600"/><ellipse cx="12" cy="-36" rx="5" ry="1.600"/><ellipse cx="48" cy="-43" rx="5" ry="1.600"/><ellipse cx="-40" cy="-36" rx="4" ry="1.400"/><ellipse cx="-12" cy="-32" rx="4" ry="1.400"/><ellipse cx="32" cy="-32" rx="4" ry="1.400"/><ellipse cx="68" cy="-36" rx="4" ry="1.400"/></g>
<!-- wall -->
<path d="M-84,-32 H84 V-20 H-84Z" fill="#E6DCD4"/>
<path d="M-84,-30 L84,-24 V-21 L-84,-27Z" fill="#A9B0B4"/>
<path d="M-70,-28 v20 M-50,-27 v16 M-20,-26 v18 M0,-25 v14 M22,-25 v16 M44,-24 v14 M66,-23 v14" stroke="#4A4F54" stroke-width="1.300"/>
<path d="M-60,-30 h7 v74 h-7z" fill="#8B9196"/><path d="M-58,-26 l6,6 l-6,6 l6,6 l-6,6 l6,6 l-6,6" stroke="#33373B" stroke-width="1.500" fill="none"/>
<!-- mid: panels & boxes -->
<path d="M-50,-12 h22 v20 h-22z M-8,-10 h16 v14 h-16z M40,-12 h14 v12 h-14z M70,-10 h14 v14 h-14z" fill="#ECECEA"/>
<path d="M-84,-14 h22 v30 h-22z M-30,4 h22 v34 h-22z M14,-6 h20 v20 h-20z M52,-8 h32 v22 h-32z M-84,26 h16 v24 h-16z" fill="#C9A77E"/>
<path d="M-84,-2 h20 v2 h-20z M-30,16 h22 v2 h-22z" fill="#A88860"/>
<path d="M-27,-14 h6 v16 h-6z M-22,-6 h5 v10 h-5z" fill="#2E4A78"/>
<rect x="-84" y="40" width="168" height="46" fill="#A99882"/>
<!-- right workers -->
<path d="M62,6 q6,-6 12,0 l2,14 h-14z" fill="#2A6CBC"/><ellipse cx="66" cy="4" rx="5" ry="5" fill="#24262A"/>
<path d="M46,14 q10,-8 18,2 l2,28 h-20z" fill="#2A6CBC"/><ellipse cx="50" cy="10" rx="6" ry="7" fill="#26282C"/>
<path d="M24,18 q8,-6 15,2 l1,22 h-16z" fill="#2866B2"/><ellipse cx="27" cy="14" rx="6" ry="7" fill="#6E432E"/>
<path d="M-9,30 q10,-8 22,0 l2,26 h-24z" fill="#2872C4"/><ellipse cx="-2" cy="17" rx="6" ry="9" fill="#BF8650"/><ellipse cx="-2" cy="22" rx="4" ry="5" fill="#D9A884"/>
<!-- left -->
<path d="M-80,14 q8,-6 14,0 l2,26 h-16z" fill="#B4B3B0"/><ellipse cx="-72" cy="7" rx="5" ry="6" fill="#4C3A2E"/><ellipse cx="-70" cy="9" rx="3" ry="4" fill="#D9AC8C"/>
<path d="M-58,22 Q-46,8 -34,20 L-29,54 L-58,60Z" fill="#25262A"/>
<path d="M-58,44 L-44,40 L-38,66 L-56,70Z" fill="#2A62AC"/>
<path d="M-46,56 Q-30,42 -21,54 L-22,84 H-44Z" fill="#6B6F74"/><path d="M0,36 Q12,30 17,42 L14,56 L0,54Z" fill="#73777C"/>
<!-- boxes & carts -->
<path d="M-22,56 L6,52 L8,72 L-20,74Z" fill="#C9A070"/><path d="M-22,56 L-10,50 L8,52 L6,58Z" fill="#DDB98A"/><path d="M6,58 L14,64 L8,72Z" fill="#B78C5C"/>
<path d="M16,40 L40,38 L40,52 L16,54Z" fill="#CDA674"/><path d="M16,40 L26,36 L42,38 L40,42Z" fill="#E2C296"/>
<path d="M44,26 h10 v16 h-10z" fill="#C9A577"/>
<path d="M18,56 h18 v3 h-18z M18,56 h2.500 v24 h-2.500z M33.500,56 h2.500 v24 h-2.500z M18,72 h18 v2.500 h-18z" fill="#2B5CA6"/>
<path d="M40,44 h16 v2.500 h-16z M40,44 h2.500 v20 h-2.500z M53.500,44 h2.500 v20 h-2.500z M62,36 h12 v2 h-12z M62,36 h2 v16 h-2z" fill="#D9B92E"/>
<path d="M8,70 L18,66 L22,84 H10Z" fill="#E6E4E0"/>
<path d="M24,76 L70,50 L84,54 V84 H24Z" fill="#3B3030" opacity=".55"/>
</g><use href="#gloss"/></g></g>
<!-- 办公楼 -->
<g transform="translate(102.8,1529.5)"><g clip-path="url(#cp)"><g filter="url(#soft)">
<rect x="-84" y="-84" width="168" height="168" fill="url(#skyBG)"/>
<g fill="#E4EEF9"><ellipse cx="-46" cy="-62" rx="18" ry="9"/><ellipse cx="-36" cy="-48" rx="16" ry="10"/><ellipse cx="-50" cy="-40" rx="12" ry="8"/><ellipse cx="-30" cy="-32" rx="12" ry="7"/></g>
<g fill="#FAFCFE"><ellipse cx="-70" cy="-14" rx="20" ry="16"/><ellipse cx="-62" cy="6" rx="14" ry="12"/><ellipse cx="-80" cy="10" rx="12" ry="16"/><ellipse cx="-42" cy="-52" rx="10" ry="6"/></g>
<!-- far-left building -->
<path d="M-84,16 L-66,8 V50 L-84,58Z" fill="#F2F3F4"/><path d="M-82,26 L-68,21 V28 L-82,33Z" fill="#5F84AC"/><path d="M-82,42 L-68,38 V44 L-82,48Z" fill="#5F84AC"/>
<path d="M-67,12 L-53.500,8 V62 L-67,62Z" fill="#3D4C4C"/><path d="M-65,16 L-56,13 V30 L-65,33Z" fill="#5C7C94"/>
<!-- glass facades -->
<path d="M28.800,-60.300 L-37,-13.700 V37.500 L28.800,21Z" fill="#3B73B0"/>
<path d="M28.800,-60.300 L84.500,-34 V34 L28.800,21Z" fill="#2C7ED4"/>
<!-- left facade reflections -->
<path d="M-37,-13.700 L-12,-31 L-8,-6 L-20,14 L-37,18Z" fill="#2C4A5E"/>
<path d="M-20,-24 L-8,-34 L-2,-14 L-6,4 L-18,6Z" fill="#1F3A3C"/>
<path d="M2,-42 L28.800,-60.300 V-24 L6,-12Z" fill="#4D93DC"/>
<path d="M-37,2 L28.800,-28 V21 L-37,37.500Z" fill="#2A4860" opacity=".75"/>
<path d="M-30,10 L-14,2 L-10,20 L-30,28Z M0,-4 L14,-12 L18,12 L2,18Z" fill="#1B3234"/>
<path d="M-37,22 L28.800,-0.500 V3.500 L-37,26.500Z" fill="#C5D2DC"/>
<!-- right facade reflections -->
<path d="M32,-40 Q44,-30 40,-8 Q48,4 44,20 L30,18Z" fill="#1F4868"/><path d="M30,-10 L54,-2 V24 L30,19Z" fill="#274E6E"/>
<path d="M52,-30 Q64,-36 76,-28 Q82,-20 78,-12 Q64,-10 54,-16Z" fill="#E8F1FA"/>
<path d="M56,-8 L84.500,2 V34 L56,26Z" fill="#3A4C5C"/>
<path d="M28.800,-60.300 V21 M-24,-23 V34 M-11,-32 V31 M2,-41.500 V28 M15,-51 V24.500 M42,-54 V24 M56,-47.500 V27 M70,-41 V30.500 M28.800,-30 L84.500,-6 M28.800,-4 L84.500,14 M-37,-13.700 L28.800,-60.300 L84.500,-34" stroke="#15283C" stroke-width=".9" fill="none" opacity=".8"/>
<!-- white base -->
<path d="M-53.500,17 L-40,13 V39 L28.800,22 L84.500,32 V84 H-53.500Z" fill="#F4F5F6"/>
<path d="M-43.500,39 L28.800,22 V48 L-43.500,60Z" fill="#FAFAFA"/>
<path d="M28.800,22 L84.500,32 V52 L28.800,47Z" fill="#E9ECEF"/>
<path d="M-40,58 L18.700,46.600 V74 L-40,78Z" fill="#3E5046"/><path d="M-22,55 L0,51 V70 L-22,72Z" fill="#56705A"/>
<path d="M40.600,48 L84.500,53 V76 L40.600,74Z" fill="#4A5C58"/><path d="M50,50 L64,52 V72 L50,71Z" fill="#6E8478"/>
<path d="M18.700,46.600 L28.800,47 L40.600,48 V76 L18.700,76Z" fill="#F1F2F3"/>
<path d="M-84,58 L-53.500,56 V84 H-84Z" fill="#DFE3E6"/>
<path d="M-60,76 L84,72 V84 H-60Z" fill="#D9DCDD"/>
<!-- bushes -->
<g fill="#4F8234"><ellipse cx="-34" cy="56" rx="10" ry="6"/><ellipse cx="-22" cy="54" rx="6" ry="5"/><ellipse cx="40" cy="68" rx="8" ry="6"/></g>
<g fill="#86A766"><ellipse cx="-36" cy="70" rx="16" ry="7"/><ellipse cx="-16" cy="72" rx="10" ry="7"/><ellipse cx="0" cy="74" rx="14" ry="6"/></g>
<g fill="#6C9848"><ellipse cx="20" cy="74" rx="6" ry="4"/><ellipse cx="-26" cy="76" rx="8" ry="4"/><ellipse cx="10" cy="80" rx="12" ry="4"/></g>
</g><use href="#gloss"/></g></g>
<!-- 医院 -->
<g transform="translate(826.2,1529.5)"><g clip-path="url(#cp)"><g filter="url(#soft)">
<rect x="-84" y="-84" width="168" height="168" fill="url(#skyYY)"/>
<!-- facade glass -->
<path d="M-84,-36 L-6,-36 V-50 L49,-60 V24 H-84Z" fill="#8CA5C2"/>
<path d="M-84,-20 H49 v5 H-84z M-84,-4 H49 v5 H-84z M-84,10 H49 v5 H-84z M-6,-36 H49 v5 H-6z" fill="#C9D8E8" opacity=".75"/>
<path d="M-84,-28 H49 v4 H-84z M-84,-12 H49 v4 H-84z M-84,3 H49 v4 H-84z M-84,17 H49 v4 H-84z" fill="#5F7B9C" opacity=".55"/>
<path d="M-77,-40.0 l5,-3 v67.0 h-5z" fill="#E4E6E8"/><path d="M-77,-43.0 l7,2.5 v3 l-7,-2z" fill="#55585E"/><path d="M-69,-40.8 l5,-3 v67.8 h-5z" fill="#E4E6E8"/><path d="M-69,-43.8 l7,2.5 v3 l-7,-2z" fill="#55585E"/><path d="M-61,-41.6 l5,-3 v68.6 h-5z" fill="#E4E6E8"/><path d="M-61,-44.6 l7,2.5 v3 l-7,-2z" fill="#55585E"/><path d="M-52,-42.4 l5,-3 v69.4 h-5z" fill="#E4E6E8"/><path d="M-52,-45.4 l7,2.5 v3 l-7,-2z" fill="#55585E"/><path d="M-43,-43.2 l5,-3 v70.2 h-5z" fill="#E4E6E8"/><path d="M-43,-46.2 l7,2.5 v3 l-7,-2z" fill="#55585E"/><path d="M-34,-44.0 l5,-3 v71.0 h-5z" fill="#E4E6E8"/><path d="M-34,-47.0 l7,2.5 v3 l-7,-2z" fill="#55585E"/><path d="M-5,-52.0 l5,-3 v79.0 h-5z" fill="#E6E8EA"/><path d="M-5,-56.0 l8,3 v4 l-8,-2.500z" fill="#55585E"/><path d="M6,-54.2 l5,-3 v81.2 h-5z" fill="#E6E8EA"/><path d="M6,-58.2 l8,3 v4 l-8,-2.500z" fill="#55585E"/><path d="M17,-56.4 l5,-3 v83.4 h-5z" fill="#E6E8EA"/><path d="M17,-60.4 l8,3 v4 l-8,-2.500z" fill="#55585E"/><path d="M28,-58.6 l5,-3 v85.6 h-5z" fill="#E6E8EA"/><path d="M28,-62.6 l8,3 v4 l-8,-2.500z" fill="#55585E"/><path d="M40,-60.8 l5,-3 v87.8 h-5z" fill="#E6E8EA"/><path d="M40,-64.8 l8,3 v4 l-8,-2.500z" fill="#55585E"/>
<path d="M-26,-40 h18 v6 h-18z" fill="#9DB2CB"/>
<path d="M-24,-31 l3,-3 l3,3 l-3,3z" fill="#E23838"/><path d="M-22.500,-31 h3 M-21,-32.500 v3" stroke="#fff" stroke-width=".8"/>
<!-- right tower -->
<path d="M49,-66 L59,-64 V40 H49Z" fill="#E6E7E8"/>
<path d="M59,-58 L84,-50 V40 H59Z" fill="#3D546C"/>
<path d="M59,-44 L84,-38 M59,-30 L84,-26 M59,-16 L84,-14 M59,-2 L84,-2 M59,12 L84,10 M66,-56 V36 M73,-54 V36 M80,-52 V36" stroke="#8FA6BE" stroke-width=".9" fill="none"/>
<path d="M60,-20 L84,-28 V-6 L60,0Z" fill="#6F8BA8" opacity=".6"/>
<!-- podium -->
<path d="M-84,23 L49,21 V32 L-84,34Z" fill="#D6D8DA"/><path d="M-84,25.500 L49,23.500 V25 L-84,27Z" fill="#9EA3A8"/>
<path d="M-84,33 H84 V60 H-84Z" fill="#DDDFE0"/>
<path d="M-64,32 L14,31 V35 L-64,36Z" fill="#A9ADB1"/>
<path d="M-62,36 H14 V58 H-62Z" fill="#8D8A89"/>
<path d="M-58,38 h10 v20 h-10z M-40,38 h14 v20 h-14z M-12,38 h10 v20 h-10z" fill="#A8938B"/>
<path d="M-48,36 v22 M-26,36 v22 M-18,36 v22 M0,36 v22" stroke="#D5D7D9" stroke-width="1.600"/>
<path d="M32,25 L65,27 V58 H32Z" fill="#4C4C42"/><ellipse cx="44" cy="36" rx="11" ry="10" fill="#8E9C66"/><path d="M43,40 h2 v18 h-2z" fill="#5C5040"/>
<path d="M65,30 L84,32 V58 H65Z" fill="#C9CBCC"/>
<!-- road -->
<rect x="-84" y="57" width="168" height="30" fill="#4D555F"/>
<path d="M-84,57 H84 V60 H-84Z" fill="#8C9196"/>
<path d="M-40,66 Q0,60 40,66 Q0,76 -40,66Z" fill="#5D6670"/>
<path d="M14,60 q3,-5 10,-5 h8 q6,0 10,5 v3 h-28z" fill="#D9CFC0"/><path d="M34,58 q4,-4 10,-4 h6 q5,0 8,4 v3 h-24z" fill="#EEF0F0"/>
<circle cx="19" cy="63" r="1.800" fill="#222"/><circle cx="37" cy="63" r="1.800" fill="#222"/><circle cx="53" cy="61.500" r="1.600" fill="#222"/>
<path d="M-60,60 q4,-3 8,0 v3 h-8z" fill="#2B2B2E"/>
</g><use href="#gloss"/></g></g>
<!-- 服务区 -->
<g transform="translate(146.5,1775.5)"><g clip-path="url(#cp)"><g filter="url(#soft)">
<rect x="-84" y="-84" width="168" height="168" fill="#F1F6F6"/>
<rect x="-84" y="-58" width="168" height="40" fill="url(#hillFW)"/>
<g fill="#5C8C62"><ellipse cx="-44" cy="-34" rx="8" ry="9"/><ellipse cx="-26" cy="-38" rx="7" ry="8"/><ellipse cx="-4" cy="-42" rx="6" ry="8"/><ellipse cx="30" cy="-34" rx="10" ry="8"/><ellipse cx="44" cy="-40" rx="9" ry="11"/><ellipse cx="64" cy="-32" rx="12" ry="8"/><ellipse cx="78" cy="-26" rx="8" ry="7"/><ellipse cx="-60" cy="-28" rx="8" ry="6"/></g>
<g fill="#7FA888"><ellipse cx="-34" cy="-44" rx="7" ry="5"/><ellipse cx="14" cy="-42" rx="8" ry="5"/><ellipse cx="56" cy="-44" rx="7" ry="5"/></g>
<path d="M44.700,-68 v26 M43,-56 h3.500 M43.500,-62 h2.500" stroke="#5C6A66" stroke-width="1"/>
<!-- left building -->
<path d="M-67,-41 L-80,-30 H-53Z" fill="#5C6C8C"/><path d="M-67,-41 L-53,-30 H-62Z" fill="#6E7E9E"/>
<path d="M-82,-30 h30 v17 h-30z" fill="#CBCFD3"/><path d="M-82,-24 h30 v2 h-30z" fill="#E4E6E8"/>
<path d="M-84,-14 h54 v4 h-54z" fill="#C3C7CB"/>
<path d="M-84,-10 h54 v28 h-54z" fill="#4C5762"/><path d="M-80,-6 h14 v8 h-14z M-60,-6 h24 v8 h-24z" fill="#6F7C8A"/><path d="M-84,4 h54 v3 h-54z" fill="#9AA0A6"/>
<!-- main roof -->
<path d="M-1.400,-41.600 L-36,-18 L-40,-12 H24 L18.700,-29Z" fill="#4D535F"/>
<path d="M-1.400,-41.600 L18.700,-29 L24,-12 H6Z" fill="#5E6470"/>
<path d="M18.700,-29 L73.500,-18 L80,-10 H24Z" fill="#555B68"/><path d="M18.700,-29 L60,-26 L73.500,-18Z" fill="#666C7A"/>
<!-- facade -->
<path d="M-36,-12.400 H64 V17 H-36Z" fill="#3A3C44"/>
<path d="M-30,-6 h62 v2.600 h-62z M-30,0.500 h62 v2.400 h-62z" fill="#C32A2A"/>
<path d="M-20,-3 h5 v5 h-5z" fill="#D9A62A"/>
<path d="M-10,6 h20 v11 h-20z" fill="#24262C"/><path d="M14,10 h20 v4 h-20z" fill="#3F7E5E"/>
<path d="M62,-14 h22 v32 h-22z" fill="#8A9098"/><path d="M66,-14 v32 M74,-14 v32" stroke="#6A7078" stroke-width="2"/><path d="M60,0 h24 v3 h-24z" fill="#C0C4C8"/>
<!-- ground -->
<rect x="-84" y="17" width="168" height="70" fill="#CFD2D2"/>
<rect x="-84" y="21" width="168" height="9" fill="#E2E5E5"/>
<path d="M-84,30 H84 V44 H-84Z" fill="#B5B8B8"/>
<path d="M-84,52 L-30,50 L-12,58 L-10,84 H-84Z" fill="#77797A"/>
<path d="M30,56 L84,50 V84 H38Z" fill="#A9ACAC"/>
<path d="M-52.600,60.700 H-14 V71.700 H-52.600Z" fill="#8E8A58"/><path d="M-52,61 l8,10 M-44,61 l8,10 M-36,61 l8,10 M-28,61 l8,10 M-22,61 l8,10" stroke="#D6CB5A" stroke-width="1.300"/>
<path d="M-14,31 h26 v16 h-26z" fill="#DADDDD"/><path d="M-14,33 h26 v2 h-26z M-14,37.500 h26 v2 h-26z M-14,42 h26 v2 h-26z" fill="#9EA2A2"/>
<path d="M-10,58 h44 v26 h-44z" fill="#E8EAEA"/><path d="M-10,61 h44 v2.500 h-44z M-10,66.500 h44 v2.500 h-44z M-10,72 h44 v2.500 h-44z M-10,77.500 h44 v2.500 h-44z" fill="#8E9292"/>
<path d="M-34,50 h60 v6 h-60z" fill="#DCDFDF"/>
<!-- cars & people -->
<path d="M10.500,35 q3,-4 8,-4 q6,0 7.500,5 v9 h-15.500z" fill="#25272B"/><path d="M41,37 q2,-3 6,-3 h4 q4,0 4,4 v8 h-14z" fill="#33353A"/><path d="M50,30 q6,-4 14,-3 q8,0 10,4 v3 h-24z" fill="#1E2023"/>
<path d="M-50,36 q2,-4 6,-4 q5,0 5,5 v8 h-11z" fill="#F2F3F3"/><path d="M-51,50 q2,-4 6,-4 q5,0 6,5 v7 h-12z" fill="#F4F5F5"/><path d="M-28,38 h9 v9 h-9z" fill="#8C3030"/>
<path d="M-73,32 h8 v10 h-8z" fill="#F6F6F6"/><path d="M-73,38 h8 v2 h-8z" fill="#D44"/>
<path d="M38,50 q2,-4 7,-4 q6,0 6,5 v10 h-13z" fill="#B9BEC2"/>
<path d="M-60,44 h6 v10 h-6z" fill="#D9CF4E"/>
<g fill="#2E3A44"><rect x="-78" y="20" width="1.600" height="5"/><rect x="-70" y="21" width="1.600" height="5"/><rect x="-26" y="27" width="1.600" height="5"/><rect x="-15" y="26" width="1.600" height="5"/><rect x="3" y="27" width="1.600" height="5"/><rect x="7" y="20" width="1.600" height="5"/><rect x="30" y="22" width="1.600" height="5"/><rect x="50" y="24" width="1.600" height="5"/></g>
<path d="M5,36 h2.500 v6 h-2.500z M-3,20 h2 v5 h-2z" fill="#C9D23A"/>
</g><use href="#gloss"/></g></g>
<!-- 超市 -->
<g transform="translate(782,1775.5)"><g clip-path="url(#cp)"><g filter="url(#soft)">
<rect x="-84" y="-84" width="168" height="168" fill="#5A5048"/>
<!-- ceiling / top -->
<rect x="-84" y="-84" width="168" height="34" fill="#C9C8C0"/>
<path d="M-40,-80 h20 v12 h-20z" fill="#5C7C62"/>
<path d="M8,-84 H56 V-61 L8,-63Z" fill="#C8283A"/>
<text x="31" y="-66" font-family="Liberation Sans, sans-serif" font-weight="700" font-size="13" fill="#fff" text-anchor="middle" transform="rotate(3 31 -66)">SAVE</text>
<path d="M-4.500,-80 h13 v17 h-13z" fill="#B85A2A"/><path d="M-1,-80 h5 v14 h-5z" fill="#5A8A4A"/>
<path d="M-20,-82 h14.500 v50 h-14.500z" fill="#E8B020"/><path d="M-17,-78 h9 v22 h-9z" fill="#C8401E"/><path d="M-20,-46 h14.500 v14 h-14.500z" fill="#3A3A20"/><path d="M-18,-43 h10 v1.500 h-10z M-18,-39.500 h10 v1.500 h-10z M-18,-36 h8 v1.500 h-8z" fill="#E8C030"/>
<!-- left upper shelves & SAVE sign -->
<path d="M-84,-54 H-20 V-28 H-84Z" fill="#8C8288"/><path d="M-84,-36 H-20 V-30 H-84Z" fill="#B9A9B4"/><path d="M-62,-54 h16 v8 h-16z M-40,-54 h10 v7 h-10z" fill="#54504C"/>
<path d="M-66.700,-48 h32.700 v10 h-32.700z" fill="#C83030"/>
<text x="-54" y="-39.800" font-family="Liberation Sans, sans-serif" font-weight="700" font-size="7.500" fill="#fff" text-anchor="middle">SAVE</text>
<!-- right shelves -->
<path d="M-4.600,-62 H84 V-28 H-4.600Z" fill="#2B2B2B"/>
<path d="M-3,-52 h46 v6.500 h-46z M-3,-42 h40 v7.500 h-40z" fill="#D8D4C0"/><path d="M-3,-52 h46 v2 h-46z M-3,-42 h40 v2 h-40z" fill="#8C8878"/>
<path d="M50,-52 h16 v6.500 h-16z" fill="#C9CF4A"/><path d="M40,-41 h36 v5 h-36z" fill="#B9BCC2"/>
<path d="M54,-30 H84 V4 H54Z" fill="#25272B"/><path d="M56,-26 h28 v5 h-28z M56,-16 h28 v5 h-28z" fill="#5A6678"/><path d="M58,-6 h26 v8 h-26z" fill="#8E9C30"/>
<path d="M24,-31 H50 V-10 H24Z" fill="#C89858"/>
<path d="M49,-30.600 h7.700 v31 h-7.700z" fill="#3A8A40"/>
<!-- left green crates with apples -->
<path d="M-80,-28 L-24,-28 L-30,-1 H-84Z" fill="url(#apl)"/>
<path d="M-82,-29 L-22,-29 L-29,1 L-31,1 L-25,-27 L-82,-27Z" fill="#1A7A48"/>
<path d="M-84,-2 L-28,-2 L-30,10 H-84Z" fill="#26382E"/><path d="M-84,-3 h56 v2.500 h-56z M-84,8 h54 v2.500 h-54z" fill="#1A7A48"/>
<path d="M-84,10 L-32,10 L-38,35 H-84Z" fill="url(#apl)"/>
<path d="M-84,34 L-36,34 L-37,38 H-84Z" fill="#1A7A48"/><path d="M-32,10 L-30,10 L-37,38 L-39,36Z" fill="#1A7A48"/>
<path d="M-84,38 L-38,38 L-44,84 H-84Z" fill="#2A322C"/>
<path d="M-33,16 L-24,16 L-32,48 L-42,48Z" fill="#5AA848"/>
<path d="M-66,50 L-40,50 L-44,66 H-68Z" fill="url(#apl)"/><path d="M-68,49 h30 v2 h-30z M-42,50 l-4,18 l-2,-1 l4,-17z" fill="#1A7A48"/>
<!-- center apple displays -->
<path d="M-13.700,-27 L38,-27 L44,-12 L-20,-12Z" fill="url(#apl2)"/>
<path d="M-22,-12 L46,-12 L48,0 L-24,0Z" fill="#1F1F1F"/>
<path d="M-24.700,11.400 L37.500,11.400 L40,33 L-26,33Z" fill="url(#apl)"/>
<path d="M-20,14 h10 v6 h-10z M6,16 h12 v7 h-12z M24,20 h10 v8 h-10z" fill="#ECE6E6" opacity=".8"/>
<path d="M-24.700,31.500 H39.300 V76 H-24.700Z" fill="#C8A068"/>
<path d="M-24.700,39 H39.300 M-24.700,47 H39.300 M-24.700,55 H39.300 M-24.700,63 H39.300" stroke="#7A5C34" stroke-width="1.300"/>
<path d="M-24.700,31.500 h4 v45 h-4z M25.500,31.500 h4 v45 h-4z" fill="#6A7078"/>
<path d="M-41,40.600 L15.500,40.600 L18,62.600 L-44,62.600Z" fill="url(#apl)"/>
<path d="M-43,62 H19 V84 H-43Z" fill="#C9A56F"/><path d="M-43,70 H19 M-43,78 H19" stroke="#7A5C34" stroke-width="1.300"/><path d="M-43,62 h4 v22 h-4z M2,62 h4 v22 h-4z" fill="#6A7078"/>
<!-- right apples & crates -->
<path d="M39.300,6 L84,6 V60 L39.300,76Z" fill="#C8A468"/><path d="M40,6 H84 M40,22 H84" stroke="#7A5C34" stroke-width="1.200"/>
<path d="M39.300,17 L62,10 L72,30 L44,44Z" fill="url(#apl2)"/><path d="M44,44 L72,30 L74,36 L45,50Z" fill="#1F1F1F"/>
<path d="M45,50 L84,32 V60 L45,78Z" fill="#CDAA70"/><path d="M45,58 L84,40 M45,68 L84,50" stroke="#7A5C34" stroke-width="1.200"/>
<path d="M40,78 L84,58 V84 H40Z" fill="#9A9A98"/>
<!-- price sign -->
<path d="M-9,-17 h17.200 v24.700 h-17.200z" fill="#C43434"/><path d="M-7,-13 h13.200 v18.700 h-13.200z" fill="#C9CDD1"/><path d="M-5,-2 h9 v2.500 h-9z" fill="#333"/>
<path d="M-0.500,7.700 h1 v8 h-1z" fill="#C9CDD1"/>
</g><use href="#gloss"/></g></g>
<!-- 学校 -->
<g transform="translate(338.5,1937.5)"><g clip-path="url(#cp)"><g filter="url(#soft)">
<rect x="-84" y="-84" width="168" height="168" fill="url(#skyXX)"/>
<!-- center building -->
<path d="M-30.700,-23 H16.900 V-8.200 H-30.700Z" fill="#ECECEA"/><path d="M-30.700,-23 H16.900 V-20 H-30.700Z" fill="#F8F8F6"/>
<path d="M-26,-8.200 H16.900 L40,-10 V36 H-26Z" fill="#D9D5CC"/><path d="M18,-6 H40 V10 H18Z" fill="#C9CCCB"/><path d="M-12,-8 H12 V-4 H-12Z" fill="#B9B5AC"/>
<path d="M-2.300,-1 h4.500 v11 h-4.500z" fill="#A4432A"/><path d="M-12,12 h24 v3 h-24z" fill="#EDEDEB"/><path d="M-6,16 h12 v16 h-12z" fill="#4A4A48"/>
<!-- left building -->
<path d="M-84,-60 L-67,-52 L-60,-49 H-41.600 V-24.700 L-30.700,-23 V40 H-84Z" fill="#E2E3E3"/>
<path d="M-60,-49 H-41.600 V-24.700 H-60Z" fill="#F0F0EF"/><path d="M-57,-42 h3.500 v6 h-3.500z" fill="#9AA4AA"/>
<path d="M-84,-40 L-46,-22 L-32,-16 V-4 L-84,-14Z" fill="#A9B2BA"/>
<path d="M-78,-38 v26 M-64,-32 v24 M-52,-26 v20 M-42,-21 v18" stroke="#ECEDED" stroke-width="4"/>
<path d="M-84,-10 L-34,-2 V8 L-84,2Z" fill="#E9EAEA"/><path d="M-84,-11 L-34,-3 V-1 L-84,-9Z" fill="#8E969C"/>
<path d="M-84,2.700 L-34,10 V38 L-84,44Z" fill="#2F3E44"/>
<path d="M-76,4 v40 M-62,6 v36 M-50,8 v32 M-41,9.500 v30" stroke="#D9DCDC" stroke-width="3.600"/>
<path d="M-70,8 L-56,10 V36 L-70,38Z" fill="#56747C" opacity=".7"/>
<!-- right building -->
<path d="M84,-60 L66,-48.400 L38.800,-17.400 V42 H84Z" fill="#D6D7D6"/>
<path d="M38.800,-17.400 L44,-23 V42 H38.800Z" fill="#BEC2C4"/>
<path d="M62.600,-32 l5.500,-6 v16 l-5.500,4z M56,-24.500 l4,-4.500 v15 l-4,3z M49.800,-19 l3.600,-4 v13 l-3.600,2.600z" fill="#56666E"/>
<path d="M59,14 l7,-1.500 v17 l-7,0.500z M51.500,15.500 l4.600,-1 v15 l-4.600,0.400z M44.500,17 l3.500,-0.800 v13 l-3.500,0.300z M70,10 l8,-2 v20 l-8,1z" fill="#5C8A90"/>
<path d="M38.800,30 L84,32 V42 L38.800,38Z" fill="#E6E7E6"/><path d="M38.800,38 L84,43 V56 L38.800,46Z" fill="#B9BCBC"/>
<path d="M44,40 l3,0.400 v4 l-3,-0.400z M51,41 l3,0.400 v4.500 l-3,-0.400z M58,42 l3.500,0.500 v5 l-3.500,-0.500z M66,43 l4,0.600 v5.500 l-4,-0.600z" fill="#3E4A50"/>
<path d="M70,-40 v84" stroke="#AEB2B4" stroke-width="1.200"/>
<!-- fence / low wall -->
<path d="M-30.700,33 H31.500 V39 H-30.700Z" fill="#C9B49C"/><path d="M-28,34.500 h3 v3 h-3z M-22,34.500 h3 v3 h-3z M-16,34.500 h3 v3 h-3z M-10,34.500 h3 v3 h-3z M-4,34.500 h3 v3 h-3z M2,34.500 h3 v3 h-3z M8,34.500 h3 v3 h-3z M14,34.500 h3 v3 h-3z M20,34.500 h3 v3 h-3z M26,34.500 h3 v3 h-3z" fill="#4C4C44"/>
<!-- lawn -->
<path d="M-84,46 L-34,38 H40 L84,56 V84 H-84Z" fill="#829F4C"/>
<path d="M-40,46 Q0,40 40,46 Q60,54 30,60 Q0,64 -30,60 Q-56,54 -40,46Z" fill="#4E6E32"/>
<path d="M-32,47 Q0,43 32,47 Q46,53 24,57 Q0,60 -24,57 Q-44,53 -32,47Z" fill="#8CAA54"/>
<path d="M-16,48.400 Q-6,46 0.400,49 Q4,55 -4,57.600 Q-14,58 -16,48.400Z" fill="#A8503E"/><path d="M2,50 Q10,48 16,51 Q14,56 6,56Z" fill="#6E8A3E"/>
<path d="M27.800,57.600 L53.400,56 L56,63 L30,65Z" fill="#C8B292"/>
<path d="M-84,40 L-56,38 L-50,50 L-84,60Z" fill="#B5AC9C"/><path d="M-58,40 h10 v14 h-10z" fill="#9C9484"/>
<g fill="#3A6A30"><ellipse cx="-62" cy="50" rx="7" ry="7"/><ellipse cx="-44" cy="44" rx="5" ry="5"/><ellipse cx="-36" cy="41" rx="4" ry="3"/></g>
<!-- trees -->
<g fill="#3E5E30"><ellipse cx="-16" cy="18" rx="10" ry="11"/><ellipse cx="-22" cy="26" rx="6" ry="6"/></g>
<g fill="#4B6C38"><ellipse cx="12" cy="24" rx="16" ry="11"/><ellipse cx="24" cy="20" rx="9" ry="8"/><ellipse cx="2" cy="18" rx="7" ry="6"/></g>
<path d="M-17,28 h1.600 v16 h-1.600z M14,34 h1.800 v18 h-1.800z" fill="#4A3E30"/>
<!-- water channel -->
<path d="M-10,61 H11 L17,84 H-18Z" fill="#D9D9D2"/><path d="M-5,63 H6 L9,84 H-9Z" fill="#6E9C98"/><path d="M-1,64 h2 v18 h-2z" fill="#A9C6C2"/>
</g><use href="#gloss"/></g></g>
<!-- 大棚 -->
<g transform="translate(590,1937.5)"><g clip-path="url(#cp)"><g filter="url(#soft)">
<rect x="-84" y="-84" width="168" height="168" fill="#DDE0E2"/>
<path d="M0,-12 L-84,-30 L-84,-38 Z" fill="#D0D5D8"/><path d="M0,-12 L-84,-38 L-84,-46 Z" fill="#EEF0F1"/><path d="M0,-12 L-84,-46 L-84,-55 Z" fill="#D0D5D8"/><path d="M0,-12 L-84,-55 L-84,-64 Z" fill="#EEF0F1"/><path d="M0,-12 L-84,-64 L-84,-74 Z" fill="#D0D5D8"/><path d="M0,-12 L-84,-74 L-84,-84 Z" fill="#EEF0F1"/><path d="M0,-12 L-84,-84 L-72,-84 Z" fill="#D0D5D8"/><path d="M0,-12 L-72,-84 L-58,-84 Z" fill="#EEF0F1"/><path d="M0,-12 L-58,-84 L-44,-84 Z" fill="#D0D5D8"/><path d="M0,-12 L-44,-84 L-30,-84 Z" fill="#EEF0F1"/><path d="M0,-12 L-30,-84 L-16,-84 Z" fill="#D0D5D8"/>
<path d="M0,-12 L-16,-84 H40 Z" fill="#E6E9EA"/><path d="M0,-12 L40,-84 H84 V-30 Z" fill="#CDD2D5"/>
<path d="M0,-12 L84,-30 V-14Z" fill="#B9BEC1"/>
<path d="M-52,-64 H50 M-46,-51 H58 M-38,-44 H64 M-32,-38 H66 M-26,-33 H62 M-20,-29 H56 M-14,-26 H48" stroke="#6C7479" stroke-width="1" fill="none"/>
<path d="M-26,-80 L-12,-20 M32,-70 L6,-22 M54,-60 L18,-22 M12,-66 L36,-40 M-4,-60 L10,-44" stroke="#737B80" stroke-width="1" fill="none"/>
<g fill="#8D9498"><circle cx="-21" cy="-49" r="4.500"/><circle cx="-16.500" cy="-32" r="3"/><circle cx="34.700" cy="-25.600" r="2.800"/><circle cx="54" cy="-33" r="3"/></g>
<g fill="#C9CDD0"><circle cx="-21" cy="-49" r="2.200"/><circle cx="54" cy="-33" r="1.500"/></g>
<path d="M-15.500,-17.400 H17.400 V-4 H-15.500Z" fill="#A3A8A8"/><path d="M-2,-16 h8 v6 h-8z" fill="#7C8384"/>
<path d="M-84,-26 L-32,-10 V-2 L-84,0Z" fill="#A9AEB1"/><path d="M-84,-27 L-32,-11 V-8 L-84,-21Z" fill="#4B5256"/>
<path d="M-79,-22 v22 M-70,-19 v19 M-61,-16.500 v16 M-53,-14 v13 M-46,-12 v11 M-40,-10.500 v9.500 M-35,-9 v8" stroke="#E6E9EA" stroke-width="2.400"/>
<path d="M84,-18 L43,-9 V-2 L84,-1Z" fill="#A9AEB1"/><path d="M84,-19 L43,-10 V-8 L84,-15Z" fill="#5A6165"/>
<path d="M78,-15 v15 M70,-13.500 v13 M62,-12 v11 M55,-10.500 v9 M49,-9.500 v8" stroke="#E6E9EA" stroke-width="2.200"/>
<!-- plants -->
<path d="M-84,-5 L-32,-4 H44 L84,-5 V84 H-84Z" fill="#5E9B3A"/>
<rect x="-84" y="-5" width="168" height="22" fill="url(#leafS)"/>
<rect x="-84" y="14" width="168" height="26" fill="url(#leafM)"/>
<rect x="-84" y="36" width="168" height="50" fill="url(#leafL)"/>
<rect x="-84" y="-5" width="168" height="8" fill="#78A848" opacity=".5"/>
</g><use href="#gloss"/></g></g>
</g>

</svg>
<div class="tag" style="left:174.0px;top:133.2px">高效</div>
<div class="tag" style="left:420.0px;top:56.8px">节能</div>
<div class="tag" style="left:601.6px;top:95.8px">环保</div>
<div class="tag" style="left:727.5px;top:226.2px">安全</div>
<div class="tag" style="left:178.7px;top:345.2px">智能</div>
<div class="tag" style="left:643.6px;top:371.7px">舒适</div>
<div class="vt" style="left:93.5px">对称拓扑结构</div>
<div class="vt" style="left:182.0px">德国英飞凌<span style="letter-spacing:-1.4px">IGBT</span>模块</div>
<div class="vt" style="left:270.5px">美国德州仪器<span style="letter-spacing:-1.4px">DSP</span>芯片</div>
<div class="vt" style="left:359.0px">新型先进的硬件设计应用</div>
<div class="vt" style="left:447.5px">纳米级响应保护技术</div>
<div class="vt" style="left:536.0px">智能匹配调节技术</div>
<div class="vt" style="left:624.5px">数字滤波嵌入软件</div>
<div class="vt" style="left:713.0px">全数字采集传输控制</div>
<div class="vt" style="left:801.5px">专利核心控制软件先进控制系统</div>
<div id="title"><span style="letter-spacing:9.2px">180KW</span>喆能电磁采暖适用场所</div>
<div id="rule" style="position:absolute;left:133px;top:1105px;width:661.5px;height:3px;background:#F2960F"></div>
<div class="lab l2" style="left:374.5px;top:1201.1px">酒店</div>
<div class="lab l2" style="left:138.7px;top:1287.1px">车站</div>
<div class="lab l2" style="left:609.7px;top:1287.1px">工厂</div>
<div class="lab l3" style="left:12.8px;top:1504.5px">办公楼</div>
<div class="lab l2" style="left:736.2px;top:1504.5px">医院</div>
<div class="lab l3" style="left:56.5px;top:1750.5px">服务区</div>
<div class="lab l2" style="left:692.0px;top:1750.5px">超市</div>
<div class="lab l2" style="left:248.5px;top:1912.5px">学校</div>
<div class="lab l2" style="left:500.0px;top:1912.5px">大棚</div>

</div>
</body>
</html>
